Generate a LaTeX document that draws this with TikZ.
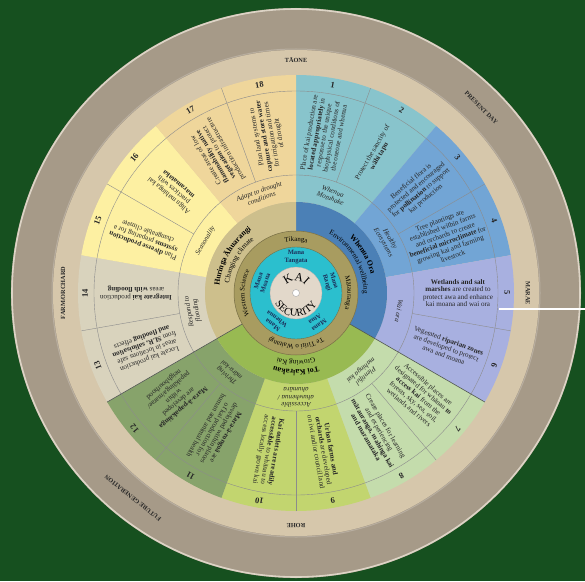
\documentclass[tikz,border=0pt]{standalone}
\usepackage{fontspec}
\setmainfont{Liberation Serif}
\usetikzlibrary{decorations.text}
\definecolor{bg}{HTML}{16501F}
\definecolor{darkring}{HTML}{A69A88}
\definecolor{rimlight}{HTML}{DDD4C6}
\definecolor{lightband}{HTML}{D6C7AB}
\definecolor{cA}{HTML}{88C4CC}
\definecolor{cB}{HTML}{72A5D5}
\definecolor{cC}{HTML}{A8B0E0}
\definecolor{cD}{HTML}{C4DCAC}
\definecolor{cE}{HTML}{C2D56F}
\definecolor{cF}{HTML}{87A36B}
\definecolor{cG}{HTML}{D9D3BD}
\definecolor{cH}{HTML}{FDF0A2}
\definecolor{cI}{HTML}{EFD69B}
\definecolor{tBlue}{HTML}{4B80B6}
\definecolor{tGreen}{HTML}{98BA52}
\definecolor{tTan}{HTML}{CDBF8C}
\definecolor{oliveR}{HTML}{A89C60}
\definecolor{cyanR}{HTML}{2BBFCE}
\definecolor{centreC}{HTML}{E2D8CA}
\definecolor{txt}{HTML}{262626}
\definecolor{navy}{HTML}{1B2F5B}
\definecolor{seam}{HTML}{4F5552}
\newcommand\annsec[5]{\fill[#1] (#2:#4pt) arc[start angle=#2,end angle=#3,radius=#4pt] -- (#3:#5pt) arc[start angle=#3,end angle=#2,radius=#5pt] -- cycle;}
\newcommand\arctext[5]{\path[decorate,decoration={text along path,text align=center,text={|#4|#5}}] (#2:#1pt) arc[start angle=#2,end angle=#3,radius=#1pt];}
\tikzset{
  segtext/.style={font=\fontsize{7.1}{7.6}\selectfont, align=center, text=txt, inner sep=0pt},
  numlbl/.style={font=\bfseries\fontsize{8.5}{9}\selectfont, text=txt, inner sep=0pt},
  sublbl/.style={font=\itshape\fontsize{7}{7.6}\selectfont, align=center, text=txt, inner sep=0pt},
  manalbl/.style={font=\bfseries\fontsize{6.6}{7.2}\selectfont, align=center, text=navy, inner sep=0pt},
  outerlbl/.style={font=\bfseries\fontsize{6.3}{7}\selectfont, text=txt, inner sep=0pt},
  thinline/.style={draw=black!45, line width=0.4pt},
  seamline/.style={draw=seam, line width=0.6pt}
}
\begin{document}
\begin{tikzpicture}[x=1pt,y=1pt]
\useasboundingbox[fill=bg] (-296,-288) rectangle (289,293);
% outer rings
\fill[darkring] (0,0) circle[radius=285pt];
\draw[rimlight, line width=1.6pt] (0,0) circle[radius=284pt];
\draw[darkring!80!white, line width=1pt] (0,0) circle[radius=244pt];
\fill[lightband] (0,0) circle[radius=243pt];
% segment pairs (text + sub-theme ring)
\annsec{cA}{90}{50}{91}{218}
\annsec{cB}{50}{10}{91}{218}
\annsec{cC}{10}{-30}{91}{218}
\annsec{cD}{-30}{-70}{91}{218}
\annsec{cE}{-70}{-110}{91}{218}
\annsec{cF}{-110}{-150}{91}{218}
\annsec{cG}{-150}{-190}{91}{218}
\annsec{cH}{170}{130}{91}{218}
\annsec{cI}{130}{90}{91}{218}
% theme ring
\annsec{tBlue}{90}{-30}{62}{91}
\annsec{tGreen}{-30}{-150}{62}{91}
\annsec{tTan}{210}{90}{62}{91}
% thin lines
\draw[thinline] (0,0) circle[radius=118pt];
\draw[thinline] (0,0) circle[radius=202pt];
\foreach \a in {70,30,-10,-50,-90,-130,-170,150,110} \draw[thinline] (\a:118pt) -- (\a:218pt);
\foreach \a in {-30,-150} \draw[seamline] (\a:62pt) -- (\a:218pt);
% inner circles
\fill[oliveR] (0,0) circle[radius=62pt];
\draw[oliveR!70!black, line width=0.5pt] (0,0) circle[radius=62pt];
\fill[cyanR] (0,0) circle[radius=46pt];
\draw[oliveR!70!black, line width=0.4pt] (0,0) circle[radius=46pt];
\fill[centreC] (0,0) circle[radius=26pt];
\draw[black!30, line width=0.3pt] (0,0) circle[radius=26pt];
\node[circle, fill=white, draw=black!35, line width=0.4pt, minimum size=7pt, inner sep=0pt] (dot) at (0,0) {};
% outer labels
\node[outerlbl] (taone) at (90:233pt) {TĀONE};
\node[outerlbl, rotate=-90] (marae) at (0:232pt) {MARAE};
\node[outerlbl, rotate=180] (rohe) at (-90:233pt) {ROHE};
\node[outerlbl, rotate=90] (farm) at (180:233pt) {FARM/ORCHARD};
\node[outerlbl, rotate=-45] (present) at (45:262pt) {PRESENT DAY};
\node[outerlbl, rotate=-218.5] (future) at (-128.5:262pt) {FUTURE GENERATION};
% numbers
\foreach \i [evaluate=\i as \ang using {80-20*(\i-1)}, evaluate=\i as \rot using {80-20*(\i-1)-90}] in {1,...,18}
  \node[numlbl, rotate=\rot] (n\i) at (\ang:211pt) {\i};
% segment texts
\node[segtext, rotate=80] (s1) at (80:160pt) {Place of kai production are\\\textbf{located appropriately} in\\response to the unique\\biophysical conditions of\\the oneone and whenua};
\node[segtext, rotate=60] (s2) at (60:160pt) {Protect the sanctity of\\\textbf{wāhi tapu}};
\node[segtext, rotate=40] (s3) at (40:160pt) {Beneficial flora is\\protected and encouraged\\for \textbf{pollination} to support\\kai production};
\node[segtext, rotate=20] (s4) at (20:160pt) {Tree plantings are\\established within farms\\and orchards to create\\\textbf{beneficial microclimate} for\\growing kai and farming\\livestock};
\node[segtext, rotate=0] (s5) at (0:162pt) {\textbf{Wetlands and salt}\\\textbf{marshes} are created to\\protect awa and enhance\\kai moana and wai ora};
\node[segtext, rotate=-20] (s6) at (-20:160pt) {Vegetated \textbf{riparian zones}\\are developed to protect\\awa and moana};
\node[segtext, rotate=-40] (s7) at (-40:160pt) {Accessible places are\\designated for whānau \textbf{to}\\\textbf{access kai} from the\\forests, sky, sea, soil,\\wetlands and rivers};
\node[segtext, rotate=-60] (s8) at (-60:160pt) {Create places for learning\\and experiencing\\\textbf{mātauranga, mahinga kai}\\\textbf{and maramataka}};
\node[segtext, rotate=-80] (s9) at (-80:160pt) {\textbf{Urban farms and}\\\textbf{orchards} are developed\\on iwi and/or council land};
\node[segtext, rotate=-100] (s10) at (-100:160pt) {\textbf{Kai outlets are readily}\\\textbf{accessible} to whānau to\\access locally grown kai};
\node[segtext, rotate=-120] (s11) at (-120:160pt) {\textbf{Mara-ā-rongoā} are\\developed within places\\of kai production for\\human and animal health};
\node[segtext, rotate=-140] (s12) at (-140:160pt) {\textbf{Mara-ā-papakāinga}\\are developed\\within\\papakāinga/marae/\\neighbourhood};
\node[segtext, rotate=-160] (s13) at (-160:160pt) {Locate kai production\\areas in locations safe\\from \textbf{SLR, salinisation}\\\textbf{and flooding} effects};
\node[segtext, rotate=-180] (s14) at (-180:160pt) {\textbf{Integrate kai} production\\areas \textbf{with flooding}};
\node[segtext, rotate=-200] (s15) at (-200:160pt) {Plan \textbf{diverse production}\\\textbf{systems} preparing for a\\changeable climate};
\node[segtext, rotate=-220] (s16) at (-220:160pt) {Align mahinga kai\\practices with\\\textbf{maramataka}};
\node[segtext, rotate=-240] (s17) at (-240:160pt) {Create areas of low\\\textbf{flammability native}\\\textbf{vegetation} to protect\\production infrastructure};
\node[segtext, rotate=-260] (s18) at (-260:160pt) {Plan land systems to\\\textbf{capture and store water}\\for irrigation and times\\of drought};
% sub-theme labels
\node[sublbl, rotate=-20] (u1) at (70:104.5pt) {Whenua\\Motuhake};
\node[sublbl, rotate=-60] (u2) at (30:104.5pt) {Healthy\\Ecosystems};
\node[sublbl, rotate=-100] (u3) at (-10:104.5pt) {Wai ora};
\node[sublbl, rotate=-140] (u4) at (-50:104.5pt) {Plentiful\\mahinga kai};
\node[sublbl, rotate=-180] (u5) at (-90:104.5pt) {Accessible\\ahuwhenua /\\ahumāra};
\node[sublbl, rotate=-220] (u6) at (-130:104.5pt) {Thriving\\māra-kai};
\node[sublbl, rotate=-260] (u7) at (-170:104.5pt) {Respond to\\flooding};
\node[sublbl, rotate=-300] (u8) at (-210:104.5pt) {Seasonality};
\node[sublbl, rotate=-340] (u9) at (-250:104.5pt) {Adapt to drought\\conditions};
% theme ring curved labels
\arctext{77}{85}{-25}{\bfseries\fontsize{7.8}{8}\selectfont}{Whenua Ora}
\arctext{67.5}{95}{-35}{\fontsize{7.2}{8}\selectfont}{Environmental wellbeing}
\arctext{77}{-35}{-145}{\bfseries\fontsize{7.8}{8}\selectfont}{Toi Kairakau}
\arctext{67.5}{-25}{-155}{\fontsize{7.2}{8}\selectfont}{Growing Kai}
\arctext{77}{205}{95}{\bfseries\fontsize{7.8}{8}\selectfont}{Huringa Āhuarangi}
\arctext{67.5}{215}{85}{\fontsize{7.2}{8}\selectfont}{Changing climate}
% olive ring labels
\arctext{51.5}{150}{30}{\fontsize{6.9}{7}\selectfont}{Tikanga}
\arctext{51.5}{60}{-60}{\fontsize{6.9}{7}\selectfont}{Mātauranga}
\arctext{51.5}{-15}{-165}{\fontsize{6.9}{7}\selectfont}{Te Tiriti o Waitangi}
\arctext{51.5}{255}{105}{\fontsize{6.9}{7}\selectfont}{Western Science}
% mana labels
\node[manalbl] (mt) at (90:36pt) {Mana\\Tangata};
\node[manalbl, rotate=-72] (mr) at (18:36pt) {Mana\\Rangi};
\node[manalbl, rotate=-144] (ma) at (-54:36pt) {Mana\\Atua};
\node[manalbl, rotate=-216] (mw) at (-126:36pt) {Mana\\Whenua};
\node[manalbl, rotate=-288] (mm) at (162:36pt) {Mana\\Moana};
% centre title
\arctext{12}{178}{2}{\fontsize{12}{13}\selectfont}{KAI}
\path[decorate,decoration={text along path,text align=center,text={|\fontsize{10.5}{11}\selectfont|SECURITY}}] (182:23.5pt) arc[start angle=182,end angle=358,radius=23.5pt];
% white pointer line
\coordinate (wl1) at (203,-16);
\coordinate (wl2) at (289,-16);
\draw[white, line width=2.5pt] (wl1) -- (wl2);
\end{tikzpicture}
\end{document}
